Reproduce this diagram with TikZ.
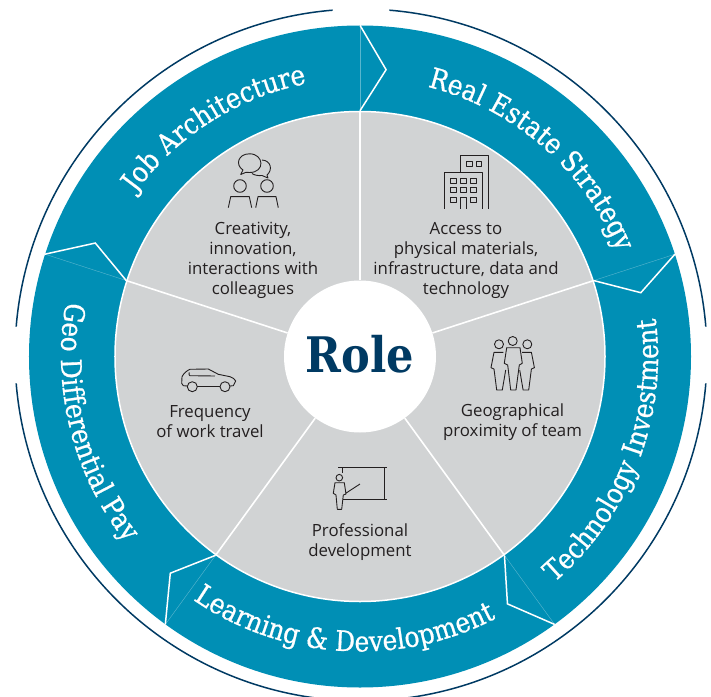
\documentclass[tikz,border=0pt]{standalone}
\usepackage{fontspec}
\usetikzlibrary{decorations.text}
\setmainfont{Open Sans}
\newfontfamily\slabfont{DejaVu Serif}[FakeStretch=0.88]
\newfontfamily\bandslab{DejaVu Serif}[FakeStretch=0.88, FakeBold=0.7]
\newcommand{\bandfont}{\bandslab\fontsize{28.3}{29}\selectfont\color{white}}
\definecolor{bandteal}{HTML}{008FB5}
\definecolor{wheelgray}{HTML}{D1D3D4}
\definecolor{rimnavy}{HTML}{003A63}
\definecolor{inkdark}{HTML}{231F20}

\begin{document}
\begin{tikzpicture}[
                x=1pt, y=1pt,
                ring/.style={circle, fill=bandteal, inner sep=0pt, minimum size=662pt},
                wheel/.style={circle, fill=wheelgray, draw=white, line width=1.5pt, inner sep=0pt, minimum size=490pt},
                hub/.style={circle, fill=white, inner sep=0pt, minimum size=152pt},
                spoke/.style={draw=white, line width=1.6pt},
                chevron/.style={draw=white, line width=1.5pt},
                seam/.style={draw=white, opacity=0.35, line width=0.4pt},
                rim/.style={draw=rimnavy, line width=1.5pt},
                caption/.style={align=center, text=inkdark, inner sep=0pt, font=\fontsize{16.8}{20}\selectfont},
                bandlabel/.style={decorate, decoration={text along path, text align=center, text={#1}}},
                icon/.style={draw=inkdark, line width=0.9pt, line join=round}
        ]

        \clip (-360,-339.5) rectangle (351,356.5);

        % Define the main circles
        \node[ring] (band) at (0,0) {};
        \node[wheel] (disc) at (0,0) {};
        \node[hub] (core) at (0,0) {};

        % Define the bends of the chevrons
        \coordinate (bendA) at (84.8:288);
        \coordinate (bendB) at (12.8:288);
        \coordinate (bendC) at (156.8:288);
        \coordinate (bendD) at (228.8:288);
        \coordinate (bendE) at (300.8:288);

        % Draw the faint seams
        \draw[seam] (disc.90) -- (band.90);
        \draw[seam] (disc.18) -- (band.18);
        \draw[seam] (disc.162) -- (band.162);
        \draw[seam] (disc.234) -- (band.234);
        \draw[seam] (disc.306) -- (band.306);

        % Draw the chevrons
        \draw[chevron] (disc.90) -- (bendA) -- (band.90);
        \draw[chevron] (disc.18) -- (bendB) -- (band.18);
        \draw[chevron] (disc.162) -- (bendC) -- (band.162);
        \draw[chevron] (disc.234) -- (bendD) -- (band.234);
        \draw[chevron] (disc.306) -- (bendE) -- (band.306);

        % Draw the spokes
        \draw[spoke] (core.90) -- (disc.90);
        \draw[spoke] (core.18) -- (disc.18);
        \draw[spoke] (core.162) -- (disc.162);
        \draw[spoke] (core.234) -- (disc.234);
        \draw[spoke] (core.306) -- (disc.306);

        % Draw the outer rim
        \draw[rim] ([shift={(1,1.5)}]4.7:346) arc[start angle=4.7, end angle=85.3, radius=346];
        \draw[rim] ([shift={(1,1.5)}]94.7:346) arc[start angle=94.7, end angle=175.3, radius=346];
        \draw[rim] ([shift={(1,1.5)}]184.7:346) arc[start angle=184.7, end angle=265.3, radius=346];
        \draw[rim] ([shift={(1,1.5)}]274.7:346) arc[start angle=274.7, end angle=355.3, radius=346];

        % Define the centre and the captions
        \node[inner sep=0pt, text=rimnavy] (role) at (0,2) {\slabfont\bfseries\fontsize{49}{49}\selectfont Role};
        \node[caption] (creativity) at (-107,96.5) {Creativity,\\innovation,\\interactions with\\colleagues};
        \node[caption] (access) at (106,96.5) {Access to\\physical materials,\\infrastructure, data and\\technology};
        \node[caption] (travel) at (-150,-65.5) {Frequency\\of work travel};
        \node[caption] (proximity) at (152.5,-65.5) {Geographical\\proximity of team};
        \node[caption] (professional) at (0,-185.5) {Professional\\development};

        % Draw the band labels
        \path[bandlabel={|\bandfont|Job Architecture}] (149.5:278) arc[start angle=149.5, end angle=95.5, radius=278];
        \path[bandlabel={|\bandfont|Real Estate Strategy}] (81:278) arc[start angle=81, end angle=17, radius=278];
        \path[bandlabel={|\bandfont|Technology Investment}] (-59:298) arc[start angle=-59, end angle=17, radius=298];
        \path[bandlabel={|\bandfont|Learning {\&} Development}] (-133:295) arc[start angle=-133, end angle=-54, radius=295];
        \path[bandlabel={|\bandfont|Geo Differential Pay}] (161:299) arc[start angle=161, end angle=227, radius=299];

        % Draw the icons
        \begin{scope}[shift={(-360,356.5)}, y=-1pt, icon]
                % two people talking
                \draw (240,186) circle[radius=6.3];
                \draw (267,186) circle[radius=6.3];
                \draw (228.3,207.7) -- (230.7,196.7) -- (249.3,196.7) -- (251.7,207.7);
                \draw (255.7,207.7) -- (258,196.7) -- (276,196.7) -- (278.3,207.7);
                \draw (243,170) .. controls (235,165) and (238,153.8) .. (249.5,153.8) .. controls (264,153.8) and (265.5,172.5) .. (249.5,172.5) .. controls (248,172.5) and (247,172.5) .. (246,172.3) -- (240.7,174.5) -- cycle;
                \draw (262,160) .. controls (271,160.5) and (273,170) .. (267,175) -- (268,178) -- (262,175.5) .. controls (258,176) and (254,175) .. (252,173.5);

                % buildings
                \draw (460,172.3) -- (460,155) -- (488.3,155) -- (488.3,209);
                \draw (444.3,209) -- (444.3,172.3) -- (482.3,172.3) -- (482.3,209);
                \draw (466.7,161.7) rectangle (472.3,166.7);
                \draw (476,161.7) rectangle (481.7,166.7);
                \draw (450.7,178.3) rectangle (456,183.3);
                \draw (460.7,178.3) rectangle (466,183.3);
                \draw (470.7,178.3) rectangle (476,183.3);
                \draw (450.7,187.7) rectangle (456,192.7);
                \draw (460.7,187.7) rectangle (466,192.7);
                \draw (470.7,187.7) rectangle (476,192.7);
                \draw (450.7,197.3) rectangle (456,202.3);
                \draw (470.7,197.3) rectangle (476,202.3);
                \draw (460.7,209) -- (460.7,197.3) -- (466,197.3) -- (466,209);

                % three people
                \draw (512.7,341) circle[radius=4.5];
                \draw (499,344.3) circle[radius=4.5];
                \draw (527.3,344.3) circle[radius=4.5];
                \draw (506.7,347.7) -- (520,347.7) -- (522.3,363.3) -- (519.3,365) -- (516,390) -- (510.7,390) -- (507.7,365) -- (504.3,363.3) -- cycle;
                \draw (503.3,352.3) -- (494,352.3) -- (491,367.7) -- (494,369) -- (496.7,390) -- (502.3,390) -- (505.7,370);
                \draw (522.1,352.3) -- (531.4,352.3) -- (534.4,367.7) -- (531.4,369) -- (528.7,390) -- (523.1,390) -- (519.7,370);

                % car
                \draw (192.3,386.7) circle[radius=5];
                \draw (225,386.7) circle[radius=5];
                \draw (187.3,386) -- (183.3,385.7) -- (181.7,383.3) -- (182,376.7) .. controls (184,373) and (187,370.5) .. (190,369.3) -- (208.3,369) -- (218.3,374.3) -- (230,376.7) .. controls (233,378) and (235,379) .. (235.7,381) -- (233.3,385.7) -- (230,386);
                \draw (197.3,386.7) -- (220,386.7);
                \draw (189.3,372.3) .. controls (188.5,374) and (189,375.5) .. (190,375.7) -- (215,376);

                % person at a board
                \draw (338.3,467.3) -- (386.7,467.3);
                \draw (384,467.3) -- (384,499.5);
                \draw (343.3,499.5) -- (386.7,499.5);
                \draw (342.3,467.3) -- (342.3,472.7);
                \draw (339.3,477.7) circle[radius=3.3];
                \draw (335,482.7) -- (344.3,482.7) -- (346,494) -- (343.3,495) -- (341.7,509.3) -- (337.3,509.3) -- (336,495) -- (333.3,493.3) -- cycle;
                \draw (345.7,493.3) -- (360,484);
        \end{scope}
\end{tikzpicture}
\end{document}
